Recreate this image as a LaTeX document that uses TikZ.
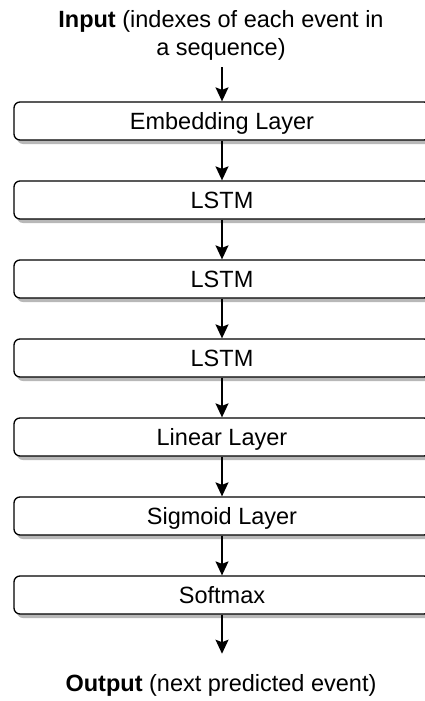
\documentclass[tikz,border=0pt]{standalone}
\usepackage{fontspec}
\setmainfont{Liberation Sans}
\usetikzlibrary{arrows.meta,shadows}

\tikzset{
  layer/.style={
    draw=black, line width=1.3pt, fill=white, rounded corners=6pt,
    minimum width=416pt, minimum height=38pt, inner sep=0pt,
    text height=17pt, text depth=1pt,
    general shadow={shadow xshift=3pt, shadow yshift=-4pt, fill=black!28}
  },
  caption/.style={inner sep=0pt, align=center},
  flow/.style={line width=1.3pt, -{Stealth[length=14pt,width=13pt,inset=2.5pt]}}
}

\begin{document}
\begin{tikzpicture}[x=1pt, y=-1pt,
  every node/.append style={font=\fontsize{23.5}{27.3}\selectfont}]
  \useasboundingbox (0,0) rectangle (424,701);

  % input description
  \node[caption, anchor=north] (in) at (221,10.5)
    {\textbf{Input} (indexes of each event in\\a sequence)};

  % stack of layers
  \node[layer] (b0) at (222,121) {Embedding Layer};
  \node[layer] (b1) at (222,200) {LSTM};
  \node[layer] (b2) at (222,279) {LSTM};
  \node[layer] (b3) at (222,358) {LSTM};
  \node[layer] (b4) at (222,437) {Linear Layer};
  \node[layer] (b5) at (222,516) {Sigmoid Layer};
  \node[layer] (b6) at (222,595) {Softmax};

  % output description
  \node[caption, anchor=north] (out) at (221,674.7)
    {\textbf{Output} (next predicted event)};

  % connectors
  \draw[flow, shorten <=7pt] (in.south -| b0.north) -- (b0.north);
  \foreach \a/\b in {b0/b1, b1/b2, b2/b3, b3/b4, b4/b5, b5/b6}
    \draw[flow] (\a.south) -- (\b.north);
  \draw[flow, shorten >=21pt] (b6.south) -- (b6.south |- out.north);
\end{tikzpicture}
\end{document}
